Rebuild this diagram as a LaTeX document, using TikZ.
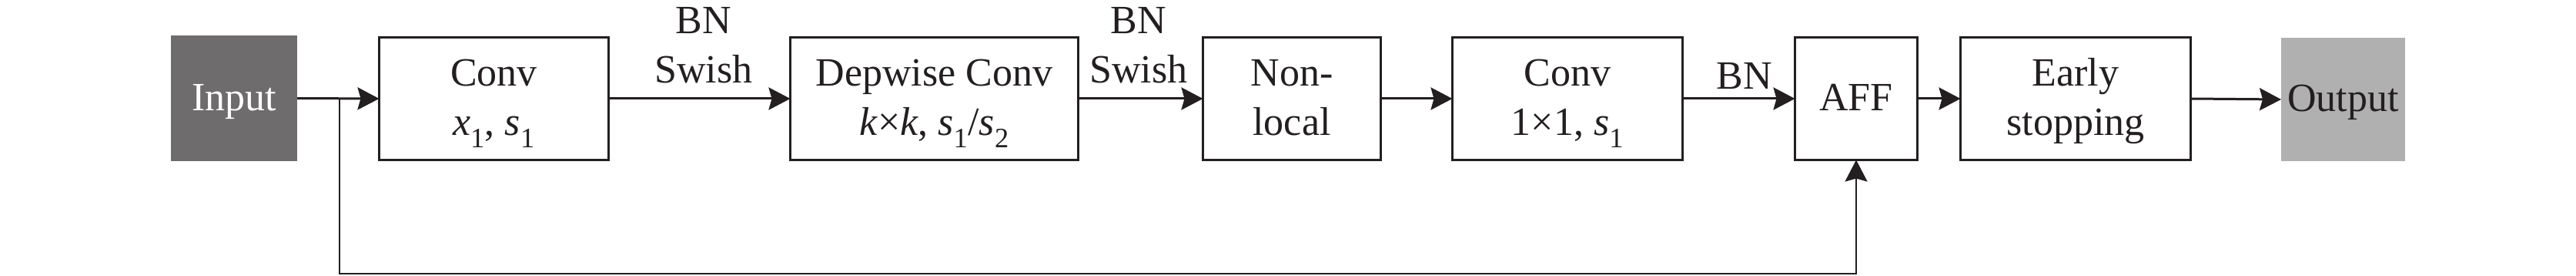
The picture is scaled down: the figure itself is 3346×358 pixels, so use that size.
\documentclass[tikz,border=0pt]{standalone}
\usepackage{fontspec}
\setmainfont{Liberation Serif}
\usetikzlibrary{arrows.meta}
\definecolor{ink}{HTML}{231F20}
\definecolor{ingray}{HTML}{6E6C6D}
\definecolor{outgray}{HTML}{B0B0B0}
\newcommand{\tstr}{\rule{0pt}{48pt}}
\newcommand{\bstr}{\rule[-16pt]{0pt}{16pt}}
\begin{document}
\begin{tikzpicture}[x=1pt,y=-1pt,
  txt/.style={inner sep=0pt, outer sep=0pt, align=center, font=\fontsize{52}{64}\selectfont, text=ink},
  blk/.style={txt, draw=ink, line width=3pt, minimum height=159pt},
  term/.style={txt, draw=none},
  conn/.style={draw=ink, line width=3pt, -{Stealth[length=28pt,width=29pt,inset=4pt]}},
  fb/.style={draw=ink, line width=2.5pt, -{Stealth[length=28pt,width=29pt,inset=4pt]}}
]
\useasboundingbox (0,0) rectangle (3346,358);
\fill[white] (0,0) rectangle (3346,358);

\node[term, fill=ingray, text=white, minimum width=164pt, minimum height=163pt] (in) at (304,127.5) {\tstr Input\bstr};
\node[blk, minimum width=298pt] (conv) at (641.5,128) {\tstr Conv\\\textit{x}\textsubscript{1}, \textit{s}\textsubscript{1}\bstr};
\node[blk, minimum width=374pt] (dw) at (1213.5,128) {\tstr Depwise Conv\\\textit{k}×\textit{k}, \textit{s}\textsubscript{1}/\textit{s}\textsubscript{2}\bstr};
\node[blk, minimum width=231pt] (nl) at (1678,128) {\tstr Non-\\local\bstr};
\node[blk, minimum width=299pt] (c11) at (2036,128) {\tstr Conv\\1×1, \textit{s}\textsubscript{1}\bstr};
\node[blk, minimum width=159pt] (aff) at (2411,128) {\tstr AFF\bstr};
\node[blk, minimum width=299pt] (es) at (2696,128) {\tstr Early\\stopping\bstr};
\node[term, fill=outgray, minimum width=161pt, minimum height=160pt] (out) at (3043.5,129) {\tstr Output\bstr};

\node[txt] (l1) at (914,60) {\tstr BN\\Swish\bstr};
\node[txt] (l2) at (1479,60) {\tstr BN\\Swish\bstr};
\node[txt] (l3) at (2266,100) {\tstr BN\bstr};

\coordinate (br) at (441,128);
\coordinate (bot) at (441,355);

\draw[conn] (in.east) -- (conv.west);
\draw[conn] (conv.east) -- (dw.west);
\draw[conn] (dw.east) -- (nl.west);
\draw[conn] (nl.east) -- (c11.west);
\draw[conn] (c11.east) -- (aff.west);
\draw[conn] (aff.east) -- (es.west);
\draw[conn] (es.east) -- (out.west);
\draw[fb] (br) -- (bot) -| (aff.south);
\end{tikzpicture}
\end{document}
